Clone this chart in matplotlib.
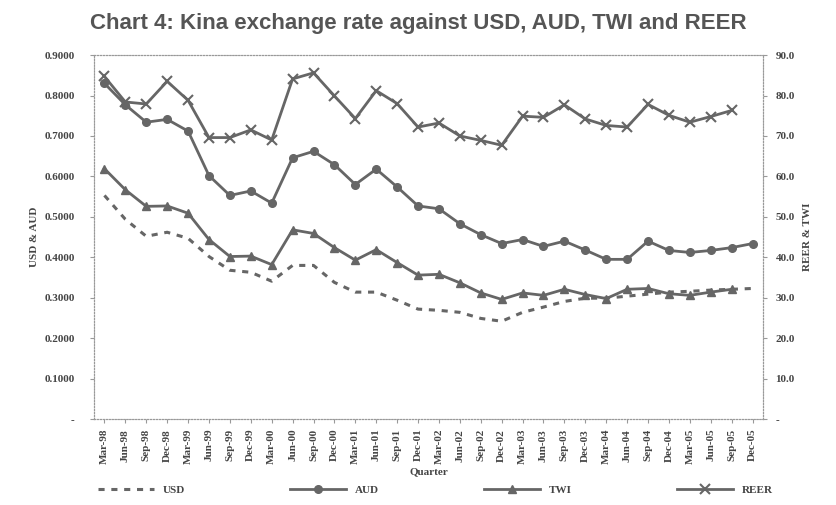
import numpy as np
import matplotlib.pyplot as plt
from matplotlib.ticker import FuncFormatter

quarters = ['Mar-98', 'Jun-98', 'Sep-98', 'Dec-98', 'Mar-99', 'Jun-99', 'Sep-99', 'Dec-99',
            'Mar-00', 'Jun-00', 'Sep-00', 'Dec-00', 'Mar-01', 'Jun-01', 'Sep-01', 'Dec-01',
            'Mar-02', 'Jun-02', 'Sep-02', 'Dec-02', 'Mar-03', 'Jun-03', 'Sep-03', 'Dec-03',
            'Mar-04', 'Jun-04', 'Sep-04', 'Dec-04', 'Mar-05', 'Jun-05', 'Sep-05', 'Dec-05']

usd = [0.553, 0.494, 0.452, 0.462, 0.447, 0.402, 0.368, 0.363,
       0.341, 0.380, 0.380, 0.338, 0.314, 0.314, 0.294, 0.272,
       0.269, 0.264, 0.249, 0.242, 0.264, 0.277, 0.291, 0.299,
       0.299, 0.304, 0.309, 0.314, 0.316, 0.319, 0.321, 0.323]

aud = [0.830, 0.777, 0.734, 0.741, 0.712, 0.602, 0.553, 0.564,
       0.534, 0.646, 0.662, 0.629, 0.580, 0.618, 0.574, 0.527,
       0.520, 0.483, 0.456, 0.434, 0.444, 0.427, 0.440, 0.418,
       0.395, 0.395, 0.440, 0.417, 0.412, 0.417, 0.424, 0.434]

twi = [61.9, 56.7, 52.6, 52.7, 50.9, 44.4, 40.2, 40.3,
       38.2, 46.8, 45.9, 42.4, 39.3, 41.9, 38.7, 35.6,
       35.8, 33.7, 31.2, 29.6, 31.2, 30.6, 32.1, 30.8,
       29.8, 32.1, 32.3, 31.0, 30.6, 31.4, 32.1, np.nan]

reer = [84.7, 78.4, 77.9, 83.5, 78.8, 69.6, 69.6, 71.5,
        69.0, 84.1, 85.6, 79.9, 74.3, 81.2, 78.0, 72.2,
        73.2, 70.0, 68.9, 67.7, 74.9, 74.6, 77.7, 74.2,
        72.6, 72.2, 77.8, 75.1, 73.4, 74.8, 76.3, np.nan]

grey = '#666666'
tick_font = {'family': 'Liberation Serif', 'weight': 'bold', 'size': 8}

x = np.arange(len(quarters))

fig = plt.figure(figsize=(8.37, 5.05), dpi=100)
ax = fig.add_axes([0.1123, 0.170, 0.7993, 0.721])
ax2 = ax.twinx()

l1, = ax.plot(x, usd, color=grey, lw=2.2, linestyle=(0, (2, 2.2)), label='USD')
l2, = ax.plot(x, aud, color=grey, lw=2, marker='o', ms=5.5, label='AUD')
l3, = ax2.plot(x, twi, color=grey, lw=2, marker='^', ms=6, label='TWI')
l4, = ax2.plot(x, reer, color=grey, lw=2, marker='x', ms=6.5, mew=1.5, label='REER')

ax.set_xlim(-0.5, len(quarters) - 0.5)
ax.set_ylim(0, 0.9)
ax2.set_ylim(0, 90)
ax.set_yticks(np.arange(0, 0.91, 0.1))
ax2.set_yticks(np.arange(0, 91, 10))
ax.yaxis.set_major_formatter(FuncFormatter(lambda v, p: '-' if abs(v) < 1e-9 else '%.4f' % v))
ax2.yaxis.set_major_formatter(FuncFormatter(lambda v, p: '-' if abs(v) < 1e-9 else '%.1f' % v))

ax.set_xticks(x)
ax.set_xticklabels(quarters, rotation=90, fontdict=tick_font)
for t in ax.get_yticklabels() + ax2.get_yticklabels():
    t.set_fontproperties('Liberation Serif')
    t.set_fontweight('bold')
    t.set_fontsize(8)

ax.tick_params(axis='y', length=3, color='#999999', pad=11, labelcolor='#444444')
ax2.tick_params(axis='y', length=3, color='#999999', pad=6, labelcolor='#444444')
ax.tick_params(axis='x', length=3, color='#999999', pad=4, labelcolor='#444444')

for a in (ax, ax2):
    for s in a.spines.values():
        s.set_linestyle(':')
        s.set_color('#999999')
        s.set_linewidth(0.8)

ax.set_ylabel('USD & AUD', fontdict=tick_font, color='#444444', labelpad=4)
ax2.set_ylabel('REER & TWI', fontdict=tick_font, color='#444444', rotation=90, labelpad=6)
ax.set_xlabel('Quarter', fontdict=tick_font, color='#444444', labelpad=2)

fig.suptitle('Chart 4: Kina exchange rate against USD, AUD, TWI and REER',
             x=0.5, y=0.975, fontsize=16, fontweight='bold', family='Liberation Sans', color='#555555')

leg = fig.legend(handles=[l1, l2, l3, l4], loc='center', bbox_to_anchor=(0.52, 0.03), ncol=4,
                 frameon=False, handlelength=5, columnspacing=9.5,
                 prop={'family': 'Liberation Serif', 'weight': 'bold', 'size': 8})
for t in leg.get_texts():
    t.set_color('#444444')

plt.savefig('out.png', dpi=100)
